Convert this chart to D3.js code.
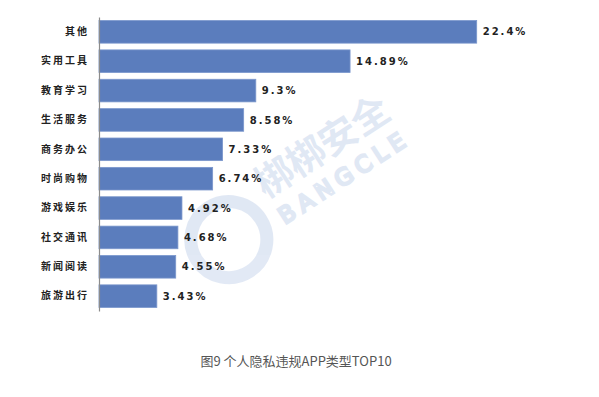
<!DOCTYPE html>
<html>
<head>
<meta charset="utf-8">
<script src="https://cdn.jsdelivr.net/npm/d3@7"></script>
<style>
  body { margin: 0; background: #fff; }
</style>
</head>
<body>
<div id="chart"></div>
<script>
var categories = ["其他", "实用工具", "教育学习", "生活服务", "商务办公", "时尚购物", "游戏娱乐", "社交通讯", "新闻阅读", "旅游出行"];
var values = [22.4, 14.89, 9.3, 8.58, 7.33, 6.74, 4.92, 4.68, 4.55, 3.43];
var valueLabels = ["22.4%", "14.89%", "9.3%", "8.58%", "7.33%", "6.74%", "4.92%", "4.68%", "4.55%", "3.43%"];
var caption = "图9 个人隐私违规APP类型TOP10";

var svg = d3.select("#chart").append("svg")
            .attr("width", 599)
            .attr("height", 397);

// watermark
var wm = svg.append("g")
            .attr("transform", "translate(295,180) rotate(-33)")
            .attr("opacity", 0.14);
wm.append("circle")
  .attr("cx", -88).attr("cy", 14)
  .attr("r", 38)
  .attr("fill", "none")
  .attr("stroke", "#2f62b8")
  .attr("stroke-width", 13);
wm.append("text")
  .attr("x", -35).attr("y", 0)
  .attr("font-family", "Noto Sans CJK SC")
  .attr("font-weight", "bold")
  .attr("font-size", 38)
  .attr("fill", "#2f62b8")
  .text("梆梆安全");
wm.append("text")
  .attr("x", -33).attr("y", 32)
  .attr("font-family", "DejaVu Sans")
  .attr("font-size", 23)
  .attr("letter-spacing", 6)
  .attr("fill", "none")
  .attr("stroke", "#2f62b8")
  .attr("stroke-width", 2.5)
  .text("BANGCLE");

var x = d3.scaleLinear()
          .domain([0, 22.4])
          .range([99, 476.7]);

var y = d3.scaleBand()
          .domain(categories)
          .range([17, 311])
          .paddingInner(0.23)
          .paddingOuter(0.12);

svg.selectAll("rect.bar")
   .data(values)
   .enter()
   .append("rect")
   .attr("class", "bar")
   .attr("x", x(0))
   .attr("y", function (d, i) { return y(categories[i]); })
   .attr("width", function (d) { return x(d) - x(0); })
   .attr("height", y.bandwidth())
   .style("fill", "#5b7dbd")
   .style("stroke", "#7b97cc")
   .style("stroke-width", 0.8);

svg.selectAll("text.val")
   .data(values)
   .enter()
   .append("text")
   .attr("class", "val")
   .attr("x", function (d) { return x(d) + 6; })
   .attr("y", function (d, i) { return y(categories[i]) + y.bandwidth() / 2; })
   .attr("dy", "0.36em")
   .attr("font-family", "DejaVu Sans")
   .attr("font-size", 10)
   .attr("font-weight", "bold")
   .attr("letter-spacing", 2)
   .attr("fill", "#222")
   .text(function (d, i) { return valueLabels[i]; });

var yAxis = d3.axisLeft(y).tickSize(0).tickPadding(10);
var ga = svg.append("g")
            .attr("transform", "translate(99,0)")
            .call(yAxis);
ga.select(".domain").attr("stroke", "#8c8c8c").attr("stroke-width", 1.2);
ga.selectAll("text")
  .attr("font-family", "Noto Sans CJK SC")
  .attr("font-size", 10)
  .attr("font-weight", "bold")
  .attr("letter-spacing", 2)
  .attr("fill", "#222");

svg.append("text")
   .attr("x", 296)
   .attr("y", 366)
   .attr("text-anchor", "middle")
   .attr("font-family", "Noto Sans CJK SC")
   .attr("font-size", 13)
   .attr("fill", "#555")
   .text(caption);
</script>
</body>
</html>
